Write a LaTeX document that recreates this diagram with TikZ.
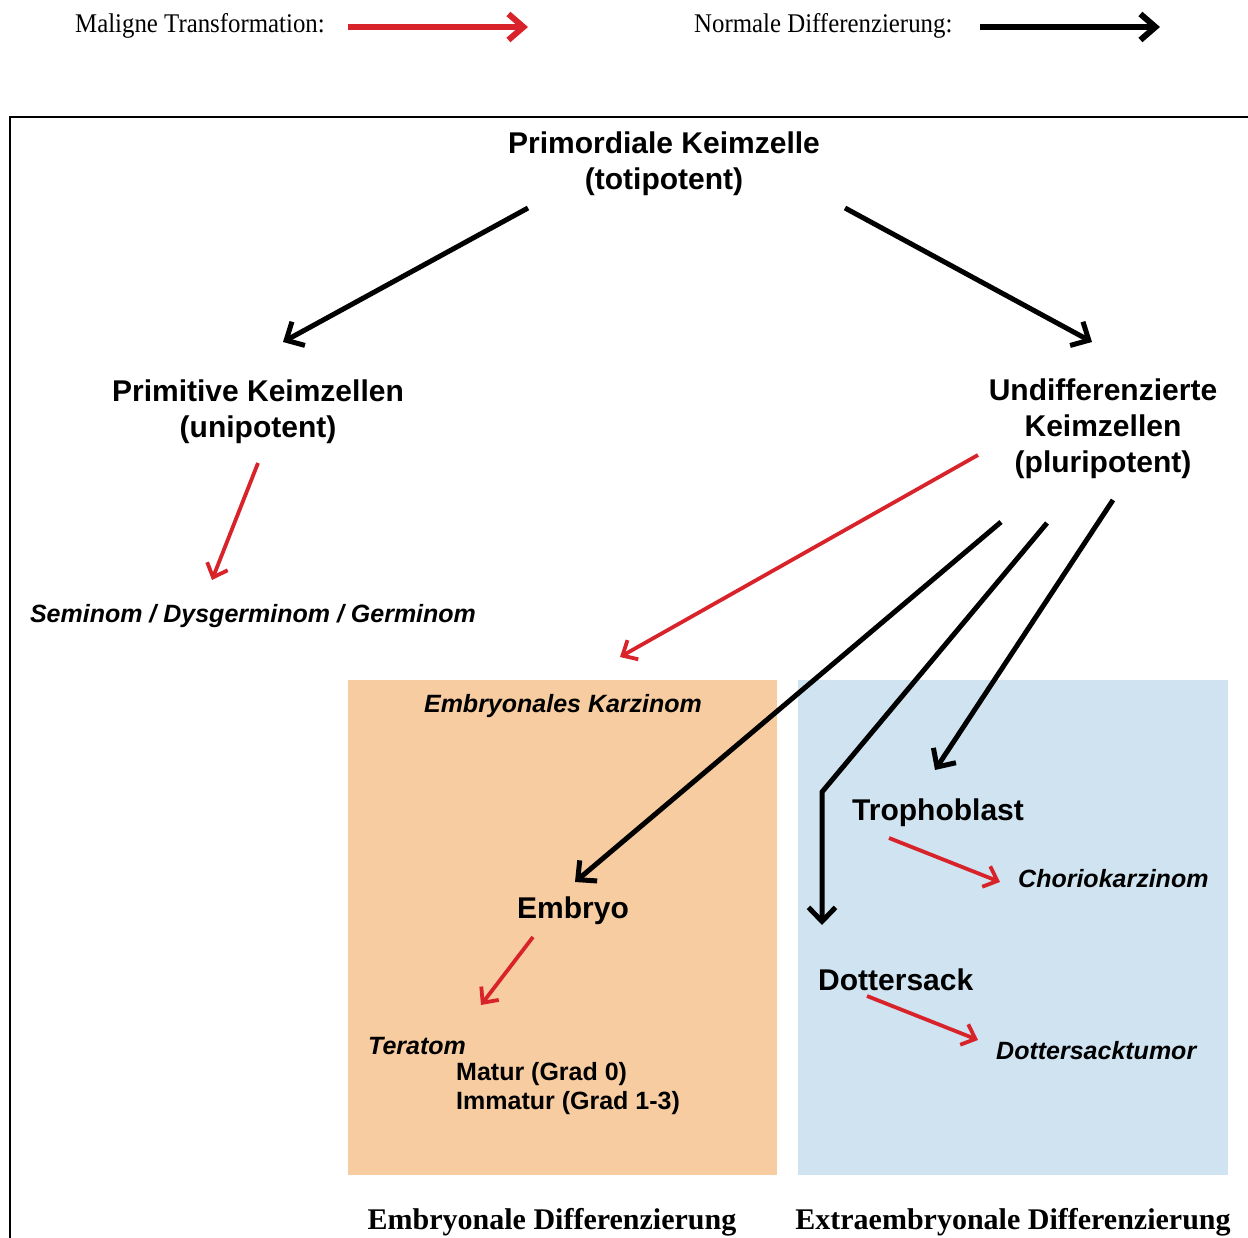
\documentclass[tikz,border=0pt]{standalone}
\usepackage{fontspec}
\setmainfont{Liberation Serif}
\newfontfamily\arialf{Liberation Sans}
\usetikzlibrary{arrows.meta}
\definecolor{tred}{RGB}{216,35,42}
\definecolor{orangebox}{RGB}{247,204,160}
\definecolor{bluebox}{RGB}{207,228,240}
\tikzset{
  big/.style={font=\arialf\bfseries\fontsize{30}{36}\selectfont, align=center, inner sep=0pt},
  med/.style={font=\arialf\bfseries\fontsize{25}{29}\selectfont, inner sep=0pt},
  ital/.style={font=\arialf\bfseries\itshape\fontsize{25}{29}\selectfont, inner sep=0pt},
  legend/.style={font=\fontsize{27}{30}\selectfont, inner sep=0pt},
  bottomlbl/.style={font=\bfseries\fontsize{30}{36}\selectfont, inner sep=0pt},
  normarrow/.style={line width=5pt, -{Straight Barb[length=14pt,width=27pt]}},
  malarrow/.style={tred, line width=3.8pt, -{Straight Barb[length=12pt,width=22pt]}},
}
\begin{document}
\begin{tikzpicture}[x=1pt,y=-1pt]
\useasboundingbox (0,0) rectangle (1248,1238);
% frame and boxes
\draw[line width=2pt] (10,1260) -- (10,117) -- (1260,117);
\fill[orangebox] (348,680) rectangle (777,1175);
\fill[bluebox] (798,680) rectangle (1228,1175);
% legend
\node[legend, anchor=west] (lgm) at (75,26) {\scalebox{0.92}[1]{Maligne Transformation:}};
\node[legend, anchor=west] (lgn) at (694,26) {\scalebox{0.92}[1]{Normale Differenzierung:}};
\coordinate (lgma) at (348,27);
\coordinate (lgmb) at (528,27);
\coordinate (lgna) at (980,27);
\coordinate (lgnb) at (1160,27);
\draw[tred, line width=6pt, -{Straight Barb[length=15pt,width=26pt]}] (lgma) -- (lgmb);
\draw[line width=6pt, -{Straight Barb[length=15pt,width=26pt]}] (lgna) -- (lgnb);
% texts
\node[big] (prim) at (664,164) {Primordiale Keimzelle\\(totipotent)};
\node[big] (pkz) at (258,412) {Primitive Keimzellen\\(unipotent)};
\node[big] (ukz) at (1103,429) {Undifferenzierte\\Keimzellen\\(pluripotent)};
\node[ital] (sem) at (253,616) {Seminom / Dysgerminom / Germinom};
\node[ital] (ek) at (563,706) {Embryonales Karzinom};
\node[big] (emb) at (573,911) {Embryo};
\node[ital, anchor=west] (ter) at (368,1046) {Teratom};
\node[med, anchor=west] (mat) at (456,1074) {Matur (Grad 0)};
\node[med, anchor=west] (imm) at (456,1103) {Immatur (Grad 1-3)};
\node[big, anchor=west] (tro) at (852,813) {Trophoblast};
\node[ital, anchor=west] (cho) at (1018,879) {Choriokarzinom};
\node[big, anchor=west] (dot) at (818,980) {Dottersack};
\node[ital, anchor=west] (dtt) at (996,1051) {Dottersacktumor};
\node[bottomlbl, anchor=base] (embd) at (552,1229) {Embryonale Differenzierung};
\node[bottomlbl, anchor=base] (extd) at (1013,1229) {Extraembryonale Differenzierung};
% arrow end points
\coordinate (a1s) at (528,208);  \coordinate (a1e) at (283,342);
\coordinate (a2s) at (845,208);  \coordinate (a2e) at (1092,342);
\coordinate (r1s) at (258,463);  \coordinate (r1e) at (212,580);
\coordinate (r2s) at (978,455);  \coordinate (r2e) at (620,657);
\coordinate (b1s) at (1001,522); \coordinate (b1e) at (575,882);
\coordinate (b2s) at (1047,523); \coordinate (b2m) at (822,792); \coordinate (b2e) at (822,925);
\coordinate (b3s) at (1113,500); \coordinate (b3e) at (935,770);
\coordinate (r3s) at (533,937);  \coordinate (r3e) at (481,1005);
\coordinate (r4s) at (889,838);  \coordinate (r4e) at (1000,882);
\coordinate (r5s) at (867,996);  \coordinate (r5e) at (978,1040);
% arrows
\draw[normarrow] (a1s) -- (a1e);
\draw[normarrow] (a2s) -- (a2e);
\draw[malarrow] (r1s) -- (r1e);
\draw[malarrow] (r2s) -- (r2e);
\draw[normarrow] (b1s) -- (b1e);
\draw[normarrow, line join=miter] (b2s) -- (b2m) -- (b2e);
\draw[normarrow] (b3s) -- (b3e);
\draw[malarrow] (r3s) -- (r3e);
\draw[malarrow] (r4s) -- (r4e);
\draw[malarrow] (r5s) -- (r5e);
\end{tikzpicture}
\end{document}
